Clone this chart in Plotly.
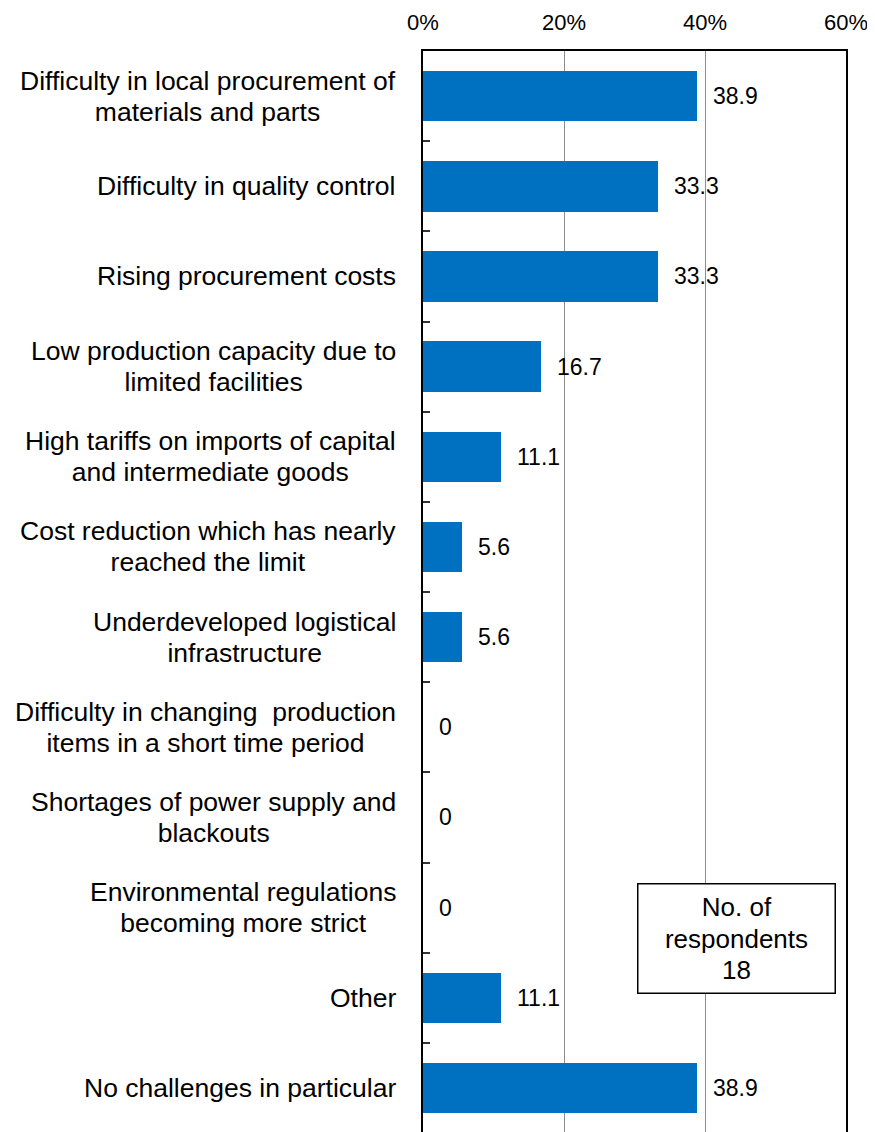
import plotly.graph_objects as go

categories = [
    "Difficulty in local procurement of<br>materials and parts",
    "Difficulty in quality control",
    "Rising procurement costs",
    "Low production capacity due to<br>limited facilities",
    "High tariffs on imports of capital<br>and intermediate goods",
    "Cost reduction which has nearly<br>reached the limit",
    "Underdeveloped logistical<br>infrastructure",
    "Difficulty in changing  production<br>items in a short time period",
    "Shortages of power supply and<br>blackouts",
    "Environmental regulations<br>becoming more strict",
    "Other",
    "No challenges in particular",
]
values = [38.9, 33.3, 33.3, 16.7, 11.1, 5.6, 5.6, 0, 0, 0, 11.1, 38.9]
value_labels = ["38.9", "33.3", "33.3", "16.7", "11.1", "5.6", "5.6", "0", "0", "0", "11.1", "38.9"]
x_ticks = [0, 20, 40, 60]
x_tick_labels = ["0%", "20%", "40%", "60%"]
note_text = "No. of<br>respondents<br>18"

ids = list(range(len(categories)))

fig = go.Figure()
fig.add_trace(go.Bar(
    x=values, y=ids, orientation="h",
    marker=dict(color="#0070C0", line=dict(width=0)),
    width=0.56, hoverinfo="skip",
))

# line spacing is driven by the outer font size; glyph size by the inner span
label_font = dict(family="Liberation Sans, Arial, sans-serif", size=23.8, color="black")
num_font = dict(family="Liberation Sans, Arial, sans-serif", size=23, color="black")
tick_font = dict(family="Liberation Sans Narrow, Arial Narrow, Liberation Sans, sans-serif", size=22, color="black")


def big(txt, px=26.5):
    return "<br>".join(f'<span style="font-size:{px}px">{p}</span>' for p in txt.split("<br>"))


annotations = []
for i, (c, v, t) in enumerate(zip(categories, values, value_labels)):
    annotations.append(dict(
        x=0, xref="paper", y=i, yref="y", text=big(c), showarrow=False,
        xanchor="right", yanchor="middle", align="center", xshift=-25,
        font=label_font,
    ))
    annotations.append(dict(
        x=v, xref="x", y=i, yref="y", text=t, showarrow=False,
        xanchor="left", yanchor="middle", xshift=14, font=num_font,
    ))

annotations.append(dict(
    x=0.742, y=0.18, xref="paper", yref="paper", text=big(note_text, 26),
    showarrow=False, xanchor="center", yanchor="middle", align="center",
    font=dict(family="Liberation Sans, Arial, sans-serif", size=24.6, color="black"),
    bgcolor="white", bordercolor="black", borderwidth=1.5,
    borderpad=2, width=192, height=104,
))

fig.update_layout(
    width=875, height=1132,
    margin=dict(l=415, r=37, t=43, b=7, autoexpand=False),
    paper_bgcolor="white", plot_bgcolor="white",
    showlegend=False,
    annotations=annotations,
    bargap=0,
)
fig.update_xaxes(
    side="top", range=[0, 60], tickvals=x_ticks, ticktext=x_tick_labels,
    showgrid=True, gridcolor="#8c8c8c", gridwidth=1,
    showline=True, linecolor="black", linewidth=1.5, mirror=True,
    ticks="", tickfont=tick_font, ticklabelstandoff=10, zeroline=False,
    fixedrange=True, automargin=False,
)
fig.update_yaxes(
    type="category", autorange="reversed", tickvals=ids,
    showticklabels=False, tickson="boundaries", ticks="inside",
    ticklen=7, tickwidth=1.5, tickcolor="#333333",
    showline=True, linecolor="black", linewidth=2, mirror=True,
    showgrid=False, zeroline=False, fixedrange=True, automargin=False,
)

fig.write_html("out.html")
